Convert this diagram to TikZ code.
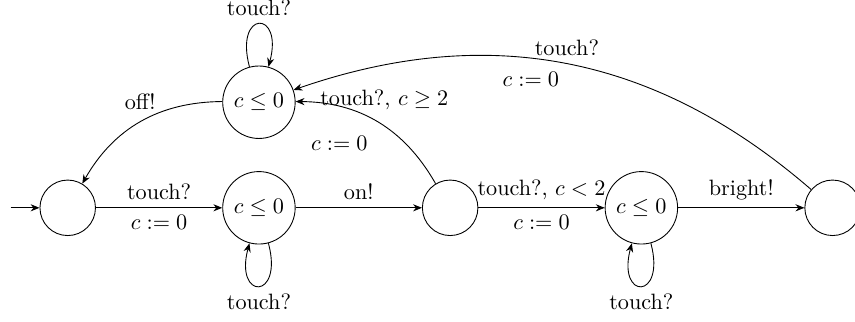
\documentclass[tikz,border=0pt]{standalone}
\usepackage{amsmath, amsfonts, amssymb}
\usepackage{tikz}
\usetikzlibrary{
  positioning,           % Relative placement of the locations
  arrows.meta            % Stealth tips
}

\begin{document}
\begin{tikzpicture}[
    >={Stealth[length=4pt, width=3.2pt]},
    loc/.style={circle, draw, minimum size=2.5em},
    trans/.style={->, line width=0.4pt},
    node distance=2cm
  ]
  \def\gapUp{5.1mm}    % Border gap between the two left invariant locations
  \def\initLen{13pt}   % Length of the initial arrow
  \useasboundingbox (-30.5pt,-51pt) rectangle (354.6pt,93.6pt);
  \node[loc] (Q_0) at (0,0) {};
  \node[loc, right=of Q_0] (Q_1) {$c \leq 0$};
  \node[loc, right=of Q_1] (Q_2) {};
  \node[loc, right=of Q_2] (Q_3) {$c \leq 0$};
  \node[loc, right=of Q_3] (Q_4) {};
  \node[loc, above=\gapUp of Q_1] (Q_T) {$c \leq 0$};
  \coordinate[left=\initLen of Q_0] (Init);
  \draw[trans] (Init) -- (Q_0);
  \draw[trans] (Q_0) -- node[above] {touch?} node[below] {$c := 0$} (Q_1);
  \draw[trans] (Q_1) -- node[above] {on!} (Q_2);
  \draw[trans] (Q_2) -- node[above] {touch?, $c < 2$} node[below] {$c := 0$} (Q_3);
  \draw[trans] (Q_3) -- node[above] {bright!} (Q_4);
  \draw[trans] (Q_2) to[bend right]
    node[above, xshift=3pt, yshift=2pt] {touch?, $c \geq 2$}
    node[below left, xshift=-1pt, yshift=-3pt] {$c := 0$} (Q_T);
  \draw[trans] (Q_4) to[bend right] node[above] {touch?} node[below left] {$c := 0$} (Q_T);
  \draw[trans] (Q_T) to[bend right] node[above, yshift=2pt] {off!} (Q_0);
  \draw[trans] (Q_T) to[loop above] node {touch?} (Q_T);
  \draw[trans] (Q_1) to[loop below] node {touch?} (Q_1);
  \draw[trans] (Q_3) to[loop below] node {touch?} (Q_3);
\end{tikzpicture}
\end{document}
